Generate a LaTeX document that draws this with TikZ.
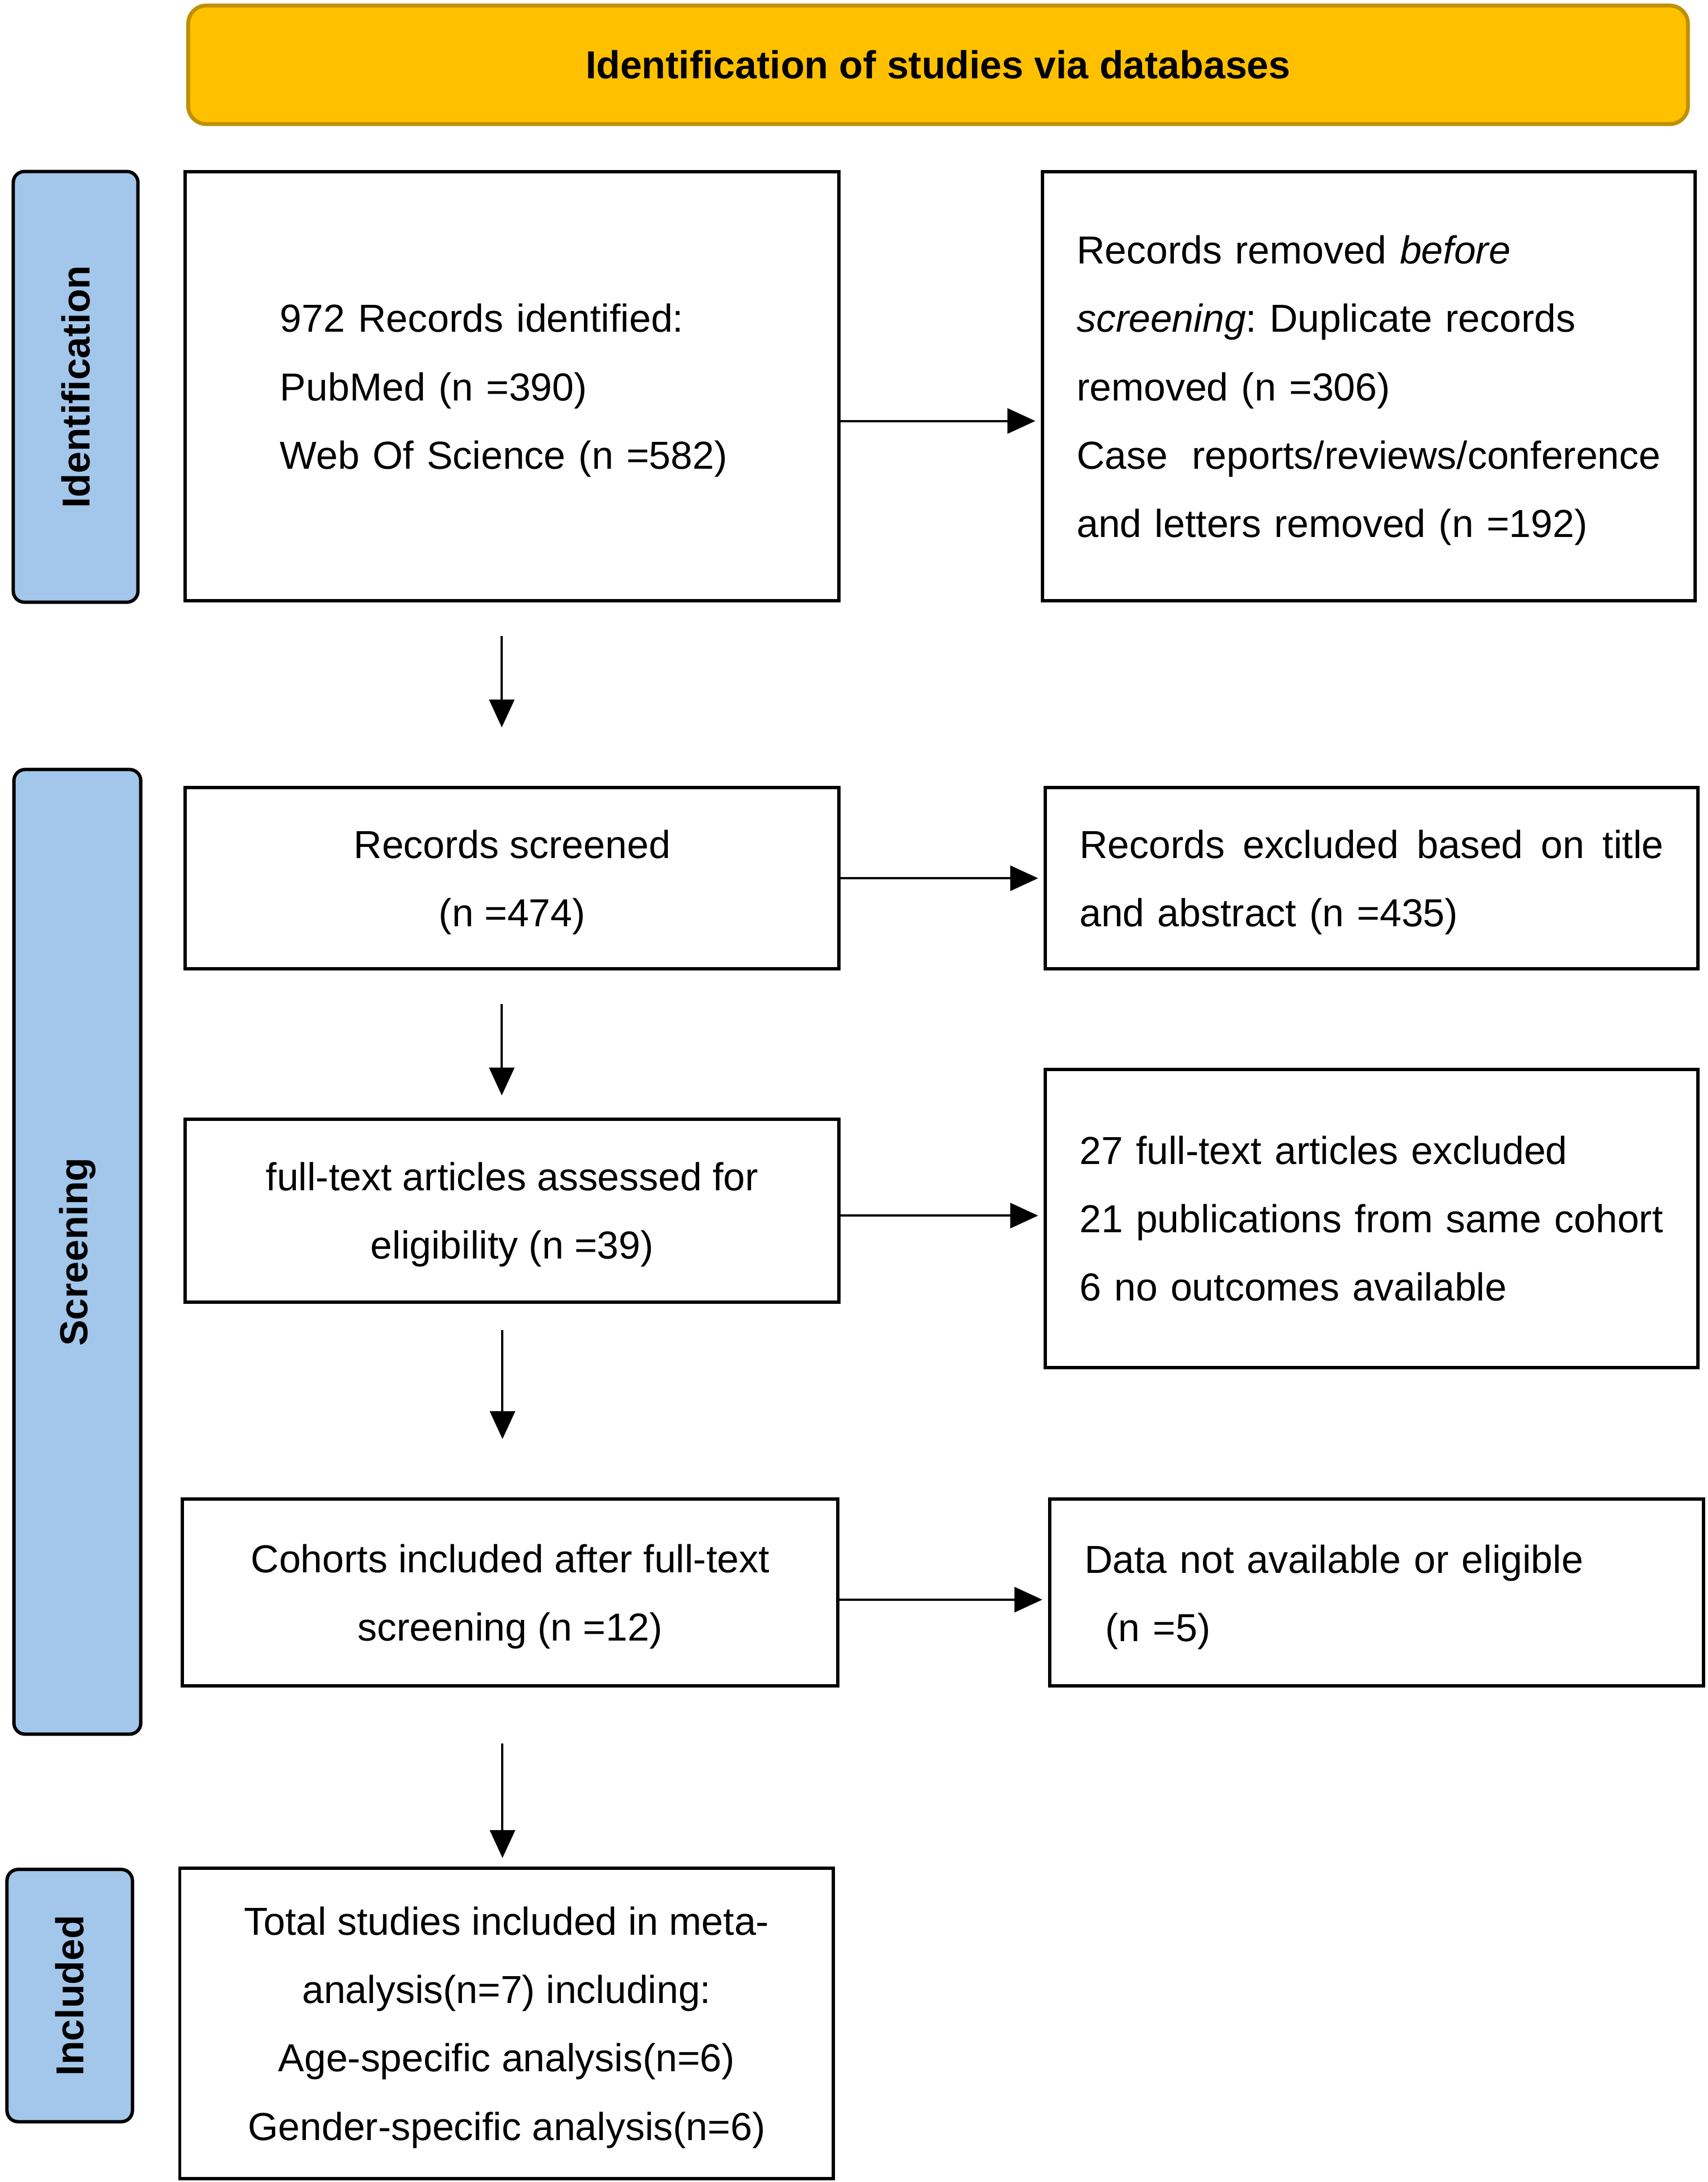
\documentclass[tikz,border=0pt]{standalone}
\usepackage{fontspec}
\setmainfont{Liberation Sans}
\usetikzlibrary{arrows.meta,calc}
\definecolor{hdrfill}{RGB}{255,192,0}
\definecolor{hdrline}{RGB}{191,144,0}
\definecolor{labblue}{RGB}{163,198,235}
\frenchspacing
\newcommand{\tpstrut}{\rule{0pt}{13.2pt}}
\begin{document}
\begin{tikzpicture}[x=0.5pt,y=-0.5pt,
  box/.style={draw=black, line width=1.2pt, fill=white, inner sep=0pt,
    font=\fontsize{14}{24.5}\selectfont},
  ctr/.style={box, align=center, text depth=0pt},
  lft/.style={box, align=left, text width=209.5pt},
  lab/.style={draw=black, line width=1.2pt, fill=labblue, rounded corners=4pt,
    rotate=90, inner sep=0pt, font=\bfseries\fontsize{14}{17}\selectfont},
  arr/.style={-{Triangle[length=10pt,width=9pt]}, line width=0.8pt},
  hdr/.style={draw=hdrline, line width=1.4pt, fill=hdrfill, rounded corners=6.5pt,
    inner sep=0pt, font=\bfseries\fontsize{14}{17}\selectfont}]
\useasboundingbox (0,0) rectangle (1225,1565.25);

% header
\node[hdr, minimum width=538pt, minimum height=42.5pt] (hdr) at (673,46.5)
  {Identification of studies via databases};

% phase labels
\node[lab, minimum width=154.5pt, minimum height=44.75pt] (idlab) at (54.25,277.5) {Identification};
\node[lab, minimum width=346pt, minimum height=45.5pt] (scrlab) at (55.5,898) {Screening};
\node[lab, minimum width=90.5pt, minimum height=45pt] (inclab) at (50,1431.5) {Included};

% boxes
\node[lft, minimum width=234.5pt, minimum height=154pt, text width=166.5pt]
  (b1) at (367.5,277)
  {\tpstrut972 Records identified:\\ PubMed (n =390)\\ Web Of Science (n =582)};
\node[lft, minimum width=234pt, minimum height=154pt]
  (b2) at (982,277)
  {\tpstrut Records removed \textit{before}\\
   \textit{screening}: Duplicate records\\
   removed (n =306)\\
   \makebox[209.5pt][l]{Case\hfill reports/reviews/conference}\\
   and letters removed (n =192)};

\node[ctr, minimum width=234.5pt, minimum height=65pt]
  (b3) at (367.5,630) {Records screened\\ (n =474)};
\node[lft, minimum width=234pt, minimum height=65pt]
  (b4) at (984,630)
  {\tpstrut\makebox[209.5pt][l]{Records\hfill excluded\hfill based\hfill on\hfill title}\\ and abstract (n =435)};

\node[ctr, minimum width=234.5pt, minimum height=65.5pt]
  (b5) at (367.5,868.5) {full-text articles assessed for\\ eligibility (n =39)};
\node[lft, minimum width=234pt, minimum height=107pt]
  (b6) at (984,874)
  {27 full-text articles excluded\\ 21 publications from same cohort\\ 6 no outcomes available};

\node[ctr, minimum width=235pt, minimum height=67pt]
  (b7) at (366,1142.5) {Cohorts included after full-text\\ screening (n =12)};
\node[lft, minimum width=234.5pt, minimum height=67pt]
  (b8) at (987.5,1142.5)
  {\tpstrut Data not available or eligible\\ \hspace*{7.5pt}(n =5)};

\node[ctr, minimum width=234.5pt, minimum height=111.5pt]
  (b9) at (363.5,1451.5)
  {Total studies included in meta-\\ analysis(n=7) including:\\ Age-specific analysis(n=6)\\ Gender-specific analysis(n=6)};

% horizontal arrows
\draw[arr, shorten >=2pt] ([yshift=-12.5pt]b1.east) -- ([yshift=-12.5pt]b1.east -| b2.west);
\draw[arr, shorten >=2pt] (b3.east) -- (b3.east -| b4.west);
\draw[arr, shorten >=2pt] ([yshift=-1.75pt]b5.east) -- ([yshift=-1.75pt]b5.east -| b6.west);
\draw[arr, shorten >=2pt] ([yshift=-2.5pt]b7.east) -- ([yshift=-2.5pt]b7.east -| b8.west);

% vertical arrows
\coordinate (d1a) at ([xshift=-3.75pt,yshift=-12pt]b1.south);
\coordinate (d1b) at ($(d1a |- b3.north)+(0,21pt)$);
\coordinate (d2a) at ([xshift=-3.75pt,yshift=-12pt]b3.south);
\coordinate (d2b) at ($(d2a |- b5.north)+(0,8pt)$);
\coordinate (d3a) at ([xshift=-3.5pt,yshift=-9.5pt]b5.south);
\coordinate (d3b) at ($(d3a |- b7.north)+(0,21pt)$);
\coordinate (d4a) at ([xshift=-2.75pt,yshift=-20pt]b7.south);
\coordinate (d4b) at ($(d4a |- b9.north)+(0,3pt)$);
\draw[arr] (d1a) -- (d1b);
\draw[arr] (d2a) -- (d2b);
\draw[arr] (d3a) -- (d3b);
\draw[arr] (d4a) -- (d4b);
\end{tikzpicture}
\end{document}
